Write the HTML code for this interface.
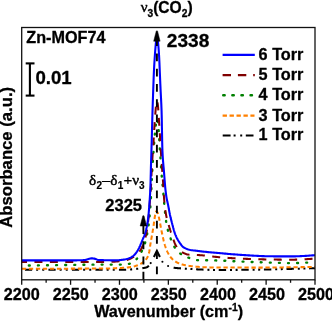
<!DOCTYPE html>
<html><head><meta charset="utf-8"><title>Zn-MOF74 CO2 IR</title>
<style>
html,body{margin:0;padding:0;background:#fff;}
body{width:332px;height:321px;overflow:hidden;font-family:"Liberation Sans",sans-serif;}
svg{display:block;will-change:transform;}
text{font-family:"Liberation Sans",sans-serif;font-weight:bold;fill:#000;stroke:#000;stroke-width:0.3px;stroke-linejoin:round;}
.sym{font-family:"Liberation Serif",serif;font-weight:normal;stroke-width:0.45px;}
.reg{font-weight:normal;stroke-width:0.2px;}
</style></head><body>
<svg width="332" height="321" viewBox="0 0 332 321">
<rect x="0" y="0" width="332" height="321" fill="#fff"/>
<!-- curves -->
<g fill="none" stroke-width="2.05" stroke-linejoin="round">
<path d="M21.70,269.70 L22.68,269.70 L23.66,269.70 L24.64,269.70 L25.62,269.70 L26.60,269.70 L27.59,269.70 L28.57,269.70 L29.55,269.70 L30.53,269.70 L31.51,269.70 L32.49,269.70 L33.47,269.70 L34.45,269.70 L35.43,269.70 L36.41,269.70 L37.39,269.70 L38.38,269.70 L39.36,269.70 L40.34,269.70 L41.32,269.70 L42.30,269.70 L43.28,269.70 L44.26,269.70 L45.24,269.70 L46.22,269.70 L47.20,269.70 L48.19,269.70 L49.17,269.70 L50.15,269.70 L51.13,269.70 L52.11,269.70 L53.09,269.70 L54.07,269.70 L55.05,269.70 L56.03,269.70 L57.01,269.70 L57.99,269.70 L58.98,269.70 L59.96,269.70 L60.94,269.70 L61.92,269.70 L62.90,269.70 L63.88,269.70 L64.86,269.70 L65.84,269.70 L66.82,269.70 L67.80,269.70 L68.78,269.70 L69.77,269.70 L70.75,269.70 L71.73,269.70 L72.71,269.70 L73.69,269.70 L74.67,269.70 L75.65,269.70 L76.63,269.70 L77.61,269.70 L78.59,269.70 L79.58,269.70 L80.56,269.70 L81.54,269.70 L82.52,269.70 L83.50,269.70 L84.48,269.70 L85.46,269.70 L86.44,269.70 L87.42,269.70 L88.40,269.70 L89.38,269.70 L90.37,269.70 L91.35,269.70 L92.33,269.70 L93.31,269.70 L94.29,269.70 L95.27,269.70 L96.25,269.70 L97.23,269.70 L98.21,269.70 L99.19,269.70 L100.17,269.70 L101.16,269.70 L102.14,269.70 L103.12,269.70 L104.10,269.70 L105.08,269.70 L106.06,269.70 L107.04,269.70 L108.02,269.70 L109.00,269.70 L109.98,269.70 L110.97,269.70 L111.95,269.70 L112.93,269.70 L113.91,269.70 L114.89,269.70 L115.87,269.70 L116.85,269.70 L117.83,269.70 L118.81,269.70 L119.79,269.70 L120.77,269.70 L121.76,269.70 L122.74,269.70 L123.72,269.70 L124.70,269.70 L125.68,269.70 L126.66,269.67 L127.64,269.64 L128.62,269.59 L129.60,269.52 L130.58,269.45 L131.56,269.37 L132.55,269.27 L133.53,269.18 L134.51,269.07 L135.00,269.02 L135.13,269.01 L135.25,269.00 L135.38,268.98 L135.49,268.97 L135.50,268.97 L135.63,268.95 L135.75,268.94 L135.88,268.93 L136.00,268.91 L136.13,268.90 L136.25,268.89 L136.38,268.87 L136.47,268.86 L136.50,268.86 L136.63,268.85 L136.75,268.83 L136.88,268.82 L137.01,268.81 L137.13,268.79 L137.26,268.78 L137.38,268.77 L137.45,268.76 L137.51,268.75 L137.63,268.74 L137.76,268.73 L137.88,268.71 L138.01,268.70 L138.13,268.69 L138.26,268.67 L138.38,268.66 L138.43,268.66 L138.51,268.65 L138.63,268.63 L138.76,268.62 L138.88,268.61 L139.01,268.60 L139.14,268.58 L139.26,268.57 L139.39,268.56 L139.41,268.56 L139.51,268.55 L139.64,268.53 L139.76,268.52 L139.89,268.51 L140.01,268.49 L140.14,268.48 L140.26,268.47 L140.39,268.45 L140.39,268.45 L140.51,268.44 L140.64,268.43 L140.76,268.41 L140.89,268.40 L141.02,268.38 L141.14,268.37 L141.27,268.36 L141.37,268.34 L141.39,268.34 L141.52,268.33 L141.64,268.31 L141.77,268.29 L141.89,268.28 L142.02,268.26 L142.14,268.25 L142.27,268.23 L142.36,268.22 L142.39,268.21 L142.52,268.19 L142.64,268.18 L142.77,268.16 L142.89,268.14 L143.02,268.12 L143.15,268.10 L143.27,268.08 L143.34,268.07 L143.40,268.06 L143.52,268.04 L143.65,268.02 L143.77,268.00 L143.90,267.97 L144.02,267.95 L144.15,267.93 L144.27,267.90 L144.32,267.89 L144.40,267.88 L144.52,267.85 L144.65,267.83 L144.77,267.80 L144.90,267.77 L145.03,267.75 L145.15,267.72 L145.28,267.69 L145.30,267.69 L145.40,267.66 L145.53,267.63 L145.65,267.60 L145.78,267.57 L145.90,267.54 L146.03,267.50 L146.15,267.47 L146.28,267.43 L146.28,267.43 L146.40,267.40 L146.53,267.36 L146.65,267.32 L146.78,267.26 L146.90,267.21 L147.03,267.15 L147.16,267.08 L147.26,267.02 L147.28,267.01 L147.41,266.93 L147.53,266.85 L147.66,266.76 L147.78,266.67 L147.91,266.57 L148.03,266.47 L148.16,266.36 L148.24,266.29 L148.28,266.25 L148.41,266.14 L148.53,266.03 L148.66,265.91 L148.78,265.78 L148.90,265.67" stroke="#000" stroke-dasharray="7.2 4 2 4.1 2 4.2" stroke-dashoffset="20.26"/>
<path d="M173.60,267.68 L173.72,267.70 L173.75,267.70 L173.85,267.72 L173.97,267.74 L174.10,267.76 L174.22,267.77 L174.35,267.79 L174.47,267.81 L174.60,267.83 L174.72,267.84 L174.73,267.84 L174.85,267.86 L174.97,267.87 L175.10,267.89 L175.23,267.90 L175.35,267.92 L175.48,267.93 L175.60,267.94 L175.71,267.96 L175.73,267.96 L175.85,267.97 L175.98,267.99 L176.10,268.00 L176.23,268.01 L176.35,268.02 L176.48,268.04 L176.60,268.05 L176.69,268.06 L176.73,268.06 L176.85,268.07 L176.98,268.08 L177.11,268.10 L177.23,268.11 L177.36,268.12 L177.48,268.13 L177.61,268.14 L177.67,268.15 L177.73,268.15 L177.86,268.16 L177.98,268.17 L178.11,268.18 L178.23,268.19 L178.36,268.20 L178.48,268.21 L178.61,268.22 L178.65,268.23 L178.73,268.23 L178.86,268.24 L178.98,268.25 L179.11,268.26 L179.24,268.27 L179.36,268.28 L179.49,268.29 L179.61,268.30 L179.63,268.30 L179.74,268.31 L179.86,268.31 L179.99,268.32 L180.11,268.33 L180.24,268.34 L180.36,268.35 L180.49,268.36 L180.61,268.36 L180.61,268.36 L180.74,268.37 L180.86,268.38 L180.99,268.39 L181.12,268.40 L181.24,268.40 L181.37,268.41 L181.49,268.42 L181.59,268.43 L181.62,268.43 L181.74,268.43 L181.87,268.44 L181.99,268.45 L182.12,268.46 L182.24,268.46 L182.37,268.47 L182.49,268.48 L182.57,268.48 L182.62,268.49 L182.74,268.49 L182.87,268.50 L182.99,268.51 L183.12,268.52 L183.25,268.52 L183.37,268.53 L183.50,268.54 L183.55,268.54 L183.62,268.54 L183.75,268.55 L183.87,268.56 L184.00,268.57 L184.12,268.57 L184.25,268.58 L184.37,268.59 L184.50,268.60 L184.54,268.60 L184.62,268.60 L184.75,268.61 L184.87,268.62 L185.00,268.63 L185.52,268.66 L186.50,268.72 L187.48,268.78 L188.46,268.84 L189.44,268.91 L190.42,268.97 L191.40,269.03 L192.38,269.09 L193.36,269.15 L194.34,269.20 L195.33,269.26 L196.31,269.31 L197.29,269.36 L198.27,269.41 L199.25,269.46 L200.23,269.50 L201.21,269.54 L202.19,269.59 L203.17,269.63 L204.15,269.68 L205.14,269.72 L206.12,269.77 L207.10,269.81 L208.08,269.85 L209.06,269.88 L210.04,269.92 L211.02,269.94 L212.00,269.97 L212.98,269.98 L213.96,270.00 L214.94,270.00 L215.93,270.00 L216.91,270.00 L217.89,270.00 L218.87,270.00 L219.85,269.99 L220.83,269.99 L221.81,269.99 L222.79,269.98 L223.77,269.98 L224.75,269.97 L225.73,269.97 L226.72,269.96 L227.70,269.96 L228.68,269.95 L229.66,269.94 L230.64,269.94 L231.62,269.93 L232.60,269.92 L233.58,269.91 L234.56,269.90 L235.54,269.89 L236.53,269.88 L237.51,269.87 L238.49,269.86 L239.47,269.85 L240.45,269.84 L241.43,269.83 L242.41,269.82 L243.39,269.81 L244.37,269.80 L245.35,269.79 L246.33,269.78 L247.32,269.76 L248.30,269.75 L249.28,269.74 L250.26,269.73 L251.24,269.71 L252.22,269.70 L253.20,269.69 L254.18,269.68 L255.16,269.66 L256.14,269.65 L257.12,269.64 L258.11,269.63 L259.09,269.61 L260.07,269.60 L261.05,269.59 L262.03,269.57 L263.01,269.55 L263.99,269.54 L264.97,269.52 L265.95,269.50 L266.93,269.48 L267.92,269.46 L268.90,269.44 L269.88,269.42 L270.86,269.40 L271.84,269.37 L272.82,269.35 L273.80,269.33 L274.78,269.30 L275.76,269.28 L276.74,269.25 L277.72,269.23 L278.71,269.20 L279.69,269.17 L280.67,269.15 L281.65,269.12 L282.63,269.09 L283.61,269.07 L284.59,269.04 L285.57,269.02 L286.55,268.99 L287.53,268.96 L288.51,268.94 L289.50,268.91 L290.48,268.89 L291.46,268.86 L292.44,268.84 L293.42,268.81 L294.40,268.79 L295.38,268.76 L296.36,268.73 L297.34,268.71 L298.32,268.68 L299.31,268.65 L300.29,268.63 L301.27,268.60 L302.25,268.57 L303.23,268.54 L304.21,268.52 L305.19,268.49 L306.17,268.46 L307.15,268.43 L308.13,268.40 L309.11,268.37 L310.10,268.35 L311.08,268.32 L312.06,268.29 L313.04,268.26 L314.02,268.23 L315.00,268.20" stroke="#000" stroke-dasharray="7.4 3.9 2 3.6 2 3.7"/>
<path d="M153.9,257 L156.9,250.8 L159.9,257" stroke="#000" stroke-linejoin="miter"/>
<g fill="#000" stroke="none"><circle cx="150.7" cy="263.1" r="1.05"/><circle cx="162.4" cy="261.7" r="1.05"/><circle cx="168.1" cy="266" r="1.05"/></g>
<path d="M21.70,268.70 L22.68,268.70 L23.66,268.70 L24.64,268.70 L25.62,268.70 L26.60,268.70 L27.59,268.70 L28.57,268.70 L29.55,268.70 L30.53,268.70 L31.51,268.70 L32.49,268.70 L33.47,268.70 L34.45,268.70 L35.43,268.70 L36.41,268.70 L37.39,268.70 L38.38,268.70 L39.36,268.69 L40.34,268.69 L41.32,268.69 L42.30,268.69 L43.28,268.69 L44.26,268.69 L45.24,268.69 L46.22,268.69 L47.20,268.69 L48.19,268.69 L49.17,268.69 L50.15,268.68 L51.13,268.68 L52.11,268.68 L53.09,268.68 L54.07,268.68 L55.05,268.68 L56.03,268.68 L57.01,268.67 L57.99,268.67 L58.98,268.67 L59.96,268.67 L60.94,268.67 L61.92,268.67 L62.90,268.66 L63.88,268.66 L64.86,268.66 L65.84,268.66 L66.82,268.66 L67.80,268.65 L68.78,268.65 L69.77,268.65 L70.75,268.65 L71.73,268.64 L72.71,268.64 L73.69,268.64 L74.67,268.64 L75.65,268.63 L76.63,268.63 L77.61,268.63 L78.59,268.62 L79.58,268.62 L80.56,268.62 L81.54,268.61 L82.52,268.61 L83.50,268.61 L84.48,268.60 L85.46,268.60 L86.44,268.60 L87.42,268.59 L88.40,268.59 L89.38,268.59 L90.37,268.58 L91.35,268.58 L92.33,268.57 L93.31,268.57 L94.29,268.56 L95.27,268.56 L96.25,268.56 L97.23,268.55 L98.21,268.55 L99.19,268.54 L100.17,268.54 L101.16,268.53 L102.14,268.53 L103.12,268.52 L104.10,268.52 L105.08,268.51 L106.06,268.50 L107.04,268.50 L108.02,268.49 L109.00,268.47 L109.98,268.44 L110.97,268.40 L111.95,268.36 L112.93,268.32 L113.91,268.27 L114.89,268.22 L115.87,268.18 L116.85,268.13 L117.83,268.09 L118.81,268.04 L119.79,268.00 L120.77,267.95 L121.76,267.90 L122.74,267.85 L123.72,267.79 L124.70,267.72 L125.68,267.65 L126.66,267.56 L127.64,267.47 L128.62,267.36 L129.60,267.23 L130.58,267.09 L131.56,266.94 L132.55,266.76 L133.53,266.53 L134.51,266.27 L135.00,266.12 L135.13,266.08 L135.25,266.04 L135.38,266.00 L135.49,265.96 L135.50,265.96 L135.63,265.92 L135.75,265.88 L135.88,265.84 L136.00,265.79 L136.13,265.75 L136.25,265.71 L136.38,265.66 L136.47,265.63 L136.50,265.62 L136.63,265.57 L136.75,265.52 L136.88,265.48 L137.01,265.43 L137.13,265.38 L137.26,265.34 L137.38,265.29 L137.45,265.26 L137.51,265.24 L137.63,265.19 L137.76,265.14 L137.88,265.09 L138.01,265.04 L138.13,264.99 L138.26,264.94 L138.38,264.89 L138.43,264.87 L138.51,264.84 L138.63,264.79 L138.76,264.73 L138.88,264.68 L139.01,264.62 L139.14,264.57 L139.26,264.51 L139.39,264.46 L139.41,264.44 L139.51,264.40 L139.64,264.34 L139.76,264.28 L139.89,264.22 L140.01,264.15 L140.14,264.09 L140.26,264.03 L140.39,263.96 L140.39,263.96 L140.51,263.89 L140.64,263.82 L140.76,263.76 L140.89,263.69 L141.02,263.61 L141.14,263.54 L141.27,263.47 L141.37,263.40 L141.39,263.39 L141.52,263.32 L141.64,263.24 L141.77,263.16 L141.89,263.08 L142.02,263.00 L142.14,262.92 L142.27,262.84 L142.36,262.78 L142.39,262.75 L142.52,262.67 L142.64,262.58 L142.77,262.49 L142.89,262.40 L143.02,262.31 L143.15,262.22 L143.27,262.12 L143.34,262.07 L143.40,262.03 L143.52,261.93 L143.65,261.83 L143.77,261.73 L143.90,261.63 L144.02,261.53 L144.15,261.43 L144.27,261.32 L144.32,261.29 L144.40,261.22 L144.52,261.10 L144.65,260.99 L144.77,260.87 L144.90,260.74 L145.03,260.61 L145.15,260.48 L145.28,260.34 L145.30,260.32 L145.40,260.20 L145.53,260.05 L145.65,259.90 L145.78,259.74 L145.90,259.58 L146.03,259.42 L146.15,259.25 L146.28,259.07 L146.28,259.07 L146.40,258.90 L146.53,258.71 L146.65,258.52 L146.78,258.33 L146.90,258.14 L147.03,257.93 L147.16,257.73 L147.26,257.55 L147.28,257.51 L147.41,257.29 L147.53,257.06 L147.66,256.82 L147.78,256.56 L147.91,256.29 L148.03,256.01 L148.16,255.71 L148.24,255.51 L148.28,255.40 L148.41,255.06 L148.53,254.71 L148.66,254.33 L148.78,253.91 L148.91,253.41 L149.04,252.84 L149.16,252.20 L149.22,251.86 L149.29,251.50 L149.41,250.75 L149.54,249.96 L149.66,249.14 L149.79,248.30 L149.91,247.45 L150.04,246.60 L150.16,245.75 L150.20,245.49 L150.29,244.92 L150.41,244.12 L150.54,243.36 L150.66,242.63 L150.79,241.92 L150.91,241.21 L151.04,240.50 L151.17,239.80 L151.18,239.70 L151.29,239.10 L151.42,238.41 L151.54,237.71 L151.67,237.01 L151.79,236.31 L151.92,235.61 L152.04,234.90 L152.16,234.20 L152.17,234.18 L152.29,233.47 L152.42,232.76 L152.54,232.05 L152.67,231.34 L152.79,230.63 L152.92,229.91 L153.05,229.18 L153.15,228.58 L153.17,228.43 L153.30,227.66 L153.42,226.86 L153.55,226.02 L153.67,225.12 L153.80,224.19 L153.92,223.23 L154.05,222.26 L154.13,221.66 L154.17,221.30 L154.30,220.35 L154.42,219.43 L154.55,218.56 L154.67,217.75 L154.80,217.00 L154.92,216.30 L155.05,215.59 L155.11,215.27 L155.18,214.90 L155.30,214.24 L155.43,213.64 L155.55,213.10 L155.68,212.65 L155.80,212.30 L155.93,212.00 L156.05,211.72 L156.09,211.65 L156.18,211.49 L156.30,211.34 L156.43,211.30 L156.55,211.33 L156.68,211.41 L156.80,211.51 L156.93,211.64 L157.06,211.79 L157.07,211.80 L157.18,211.94 L157.31,212.12 L157.43,212.35 L157.56,212.64 L157.68,212.97 L157.81,213.33 L157.93,213.72 L158.05,214.09 L158.06,214.11 L158.18,214.52 L158.31,214.94 L158.43,215.40 L158.56,215.90 L158.68,216.43 L158.81,216.99 L158.93,217.56 L159.03,218.01 L159.06,218.14 L159.19,218.74 L159.31,219.33 L159.44,219.92 L159.56,220.53 L159.69,221.15 L159.81,221.79 L159.94,222.44 L160.01,222.84 L160.06,223.11 L160.19,223.78 L160.31,224.45 L160.44,225.12 L160.56,225.80 L160.69,226.46 L160.81,227.12 L160.94,227.76 L160.99,228.03 L161.07,228.40 L161.19,229.03 L161.32,229.67 L161.44,230.30 L161.57,230.94 L161.69,231.58 L161.82,232.21 L161.94,232.84 L161.97,232.99 L162.07,233.46 L162.19,234.07 L162.32,234.68 L162.44,235.28 L162.57,235.87 L162.69,236.44 L162.82,237.01 L162.94,237.56 L162.95,237.60 L163.07,238.09 L163.20,238.62 L163.32,239.14 L163.45,239.66 L163.57,240.17 L163.70,240.67 L163.82,241.17 L163.94,241.61 L163.95,241.66 L164.07,242.14 L164.20,242.61 L164.32,243.07 L164.45,243.52 L164.57,243.96 L164.70,244.39 L164.82,244.80 L164.92,245.10 L164.95,245.21 L165.08,245.60 L165.20,245.99 L165.33,246.37 L165.45,246.74 L165.58,247.11 L165.70,247.48 L165.83,247.84 L165.90,248.04 L165.95,248.19 L166.08,248.54 L166.20,248.88 L166.33,249.21 L166.45,249.53 L166.58,249.85 L166.70,250.17 L166.83,250.47 L166.88,250.59 L166.95,250.77 L167.08,251.06 L167.21,251.34 L167.33,251.61 L167.46,251.88 L167.58,252.14 L167.71,252.39 L167.83,252.64 L167.86,252.70 L167.96,252.89 L168.08,253.13 L168.21,253.37 L168.33,253.60 L168.46,253.84 L168.58,254.06 L168.71,254.28 L168.83,254.50 L168.84,254.51 L168.96,254.72 L169.09,254.93 L169.21,255.13 L169.34,255.33 L169.46,255.53 L169.59,255.72 L169.71,255.91 L169.82,256.07 L169.84,256.10 L169.96,256.28 L170.09,256.45 L170.21,256.62 L170.34,256.79 L170.46,256.95 L170.59,257.11 L170.71,257.27 L170.80,257.38 L170.84,257.42 L170.96,257.57 L171.09,257.72 L171.22,257.87 L171.34,258.01 L171.47,258.16 L171.59,258.30 L171.72,258.43 L171.78,258.51 L171.84,258.57 L171.97,258.70 L172.09,258.83 L172.22,258.96 L172.34,259.09 L172.47,259.21 L172.59,259.33 L172.72,259.45 L172.76,259.49 L172.84,259.57 L172.97,259.68 L173.10,259.79 L173.22,259.90 L173.35,260.01 L173.47,260.12 L173.60,260.22 L173.72,260.32 L173.75,260.34 L173.85,260.42 L173.97,260.52 L174.10,260.61 L174.22,260.70 L174.35,260.80 L174.47,260.89 L174.60,260.98 L174.72,261.07 L174.73,261.07 L174.85,261.15 L174.97,261.24 L175.10,261.32 L175.23,261.41 L175.35,261.49 L175.48,261.57 L175.60,261.65 L175.71,261.71 L175.73,261.73 L175.85,261.80 L175.98,261.88 L176.10,261.95 L176.23,262.03 L176.35,262.10 L176.48,262.17 L176.60,262.24 L176.69,262.29 L176.73,262.31 L176.85,262.38 L176.98,262.44 L177.11,262.51 L177.23,262.57 L177.36,262.63 L177.48,262.70 L177.61,262.76 L177.67,262.79 L177.73,262.81 L177.86,262.87 L177.98,262.93 L178.11,262.98 L178.23,263.04 L178.36,263.09 L178.48,263.15 L178.61,263.20 L178.65,263.22 L178.73,263.25 L178.86,263.31 L178.98,263.36 L179.11,263.41 L179.24,263.46 L179.36,263.51 L179.49,263.56 L179.61,263.60 L179.63,263.61 L179.74,263.65 L179.86,263.70 L179.99,263.75 L180.11,263.79 L180.24,263.84 L180.36,263.88 L180.49,263.92 L180.61,263.97 L180.61,263.97 L180.74,264.01 L180.86,264.05 L180.99,264.09 L181.12,264.14 L181.24,264.18 L181.37,264.22 L181.49,264.26 L181.59,264.29 L181.62,264.29 L181.74,264.33 L181.87,264.37 L181.99,264.41 L182.12,264.44 L182.24,264.48 L182.37,264.51 L182.49,264.55 L182.57,264.57 L182.62,264.58 L182.74,264.62 L182.87,264.65 L182.99,264.68 L183.12,264.71 L183.25,264.74 L183.37,264.78 L183.50,264.81 L183.55,264.82 L183.62,264.84 L183.75,264.87 L183.87,264.90 L184.00,264.93 L184.12,264.96 L184.25,264.99 L184.37,265.01 L184.50,265.04 L184.54,265.05 L184.62,265.07 L184.75,265.10 L184.87,265.13 L185.00,265.15 L185.52,265.26 L186.50,265.46 L187.48,265.63 L188.46,265.79 L189.44,265.94 L190.42,266.07 L191.40,266.19 L192.38,266.31 L193.36,266.42 L194.34,266.52 L195.33,266.61 L196.31,266.69 L197.29,266.77 L198.27,266.84 L199.25,266.92 L200.23,266.98 L201.21,267.05 L202.19,267.10 L203.17,267.16 L204.15,267.20 L205.14,267.24 L206.12,267.28 L207.10,267.31 L208.08,267.35 L209.06,267.38 L210.04,267.41 L211.02,267.44 L212.00,267.46 L212.98,267.48 L213.96,267.49 L214.94,267.50 L215.93,267.50 L216.91,267.51 L217.89,267.51 L218.87,267.52 L219.85,267.52 L220.83,267.53 L221.81,267.53 L222.79,267.53 L223.77,267.54 L224.75,267.54 L225.73,267.55 L226.72,267.55 L227.70,267.55 L228.68,267.56 L229.66,267.56 L230.64,267.56 L231.62,267.56 L232.60,267.57 L233.58,267.57 L234.56,267.57 L235.54,267.57 L236.53,267.58 L237.51,267.58 L238.49,267.58 L239.47,267.58 L240.45,267.58 L241.43,267.59 L242.41,267.59 L243.39,267.59 L244.37,267.59 L245.35,267.59 L246.33,267.59 L247.32,267.59 L248.30,267.59 L249.28,267.60 L250.26,267.60 L251.24,267.60 L252.22,267.60 L253.20,267.60 L254.18,267.60 L255.16,267.60 L256.14,267.60 L257.12,267.60 L258.11,267.60 L259.09,267.60 L260.07,267.60 L261.05,267.60 L262.03,267.60 L263.01,267.59 L263.99,267.59 L264.97,267.59 L265.95,267.58 L266.93,267.57 L267.92,267.57 L268.90,267.56 L269.88,267.55 L270.86,267.54 L271.84,267.53 L272.82,267.52 L273.80,267.51 L274.78,267.50 L275.76,267.49 L276.74,267.48 L277.72,267.46 L278.71,267.45 L279.69,267.44 L280.67,267.42 L281.65,267.41 L282.63,267.40 L283.61,267.38 L284.59,267.37 L285.57,267.36 L286.55,267.34 L287.53,267.33 L288.51,267.32 L289.50,267.31 L290.48,267.29 L291.46,267.28 L292.44,267.27 L293.42,267.26 L294.40,267.24 L295.38,267.23 L296.36,267.21 L297.34,267.20 L298.32,267.19 L299.31,267.17 L300.29,267.16 L301.27,267.14 L302.25,267.12 L303.23,267.11 L304.21,267.09 L305.19,267.08 L306.17,267.06 L307.15,267.04 L308.13,267.02 L309.11,267.01 L310.10,266.99 L311.08,266.97 L312.06,266.95 L313.04,266.94 L314.02,266.92 L315.00,266.90" stroke="#ff8000" stroke-dasharray="4.3 2.7" stroke-dashoffset="6.83"/>
<path d="M21.70,265.60 L22.68,265.59 L23.66,265.57 L24.64,265.56 L25.62,265.55 L26.60,265.53 L27.59,265.52 L28.57,265.51 L29.55,265.49 L30.53,265.48 L31.51,265.47 L32.49,265.45 L33.47,265.44 L34.45,265.43 L35.43,265.41 L36.41,265.40 L37.39,265.39 L38.38,265.37 L39.36,265.36 L40.34,265.35 L41.32,265.33 L42.30,265.32 L43.28,265.31 L44.26,265.30 L45.24,265.28 L46.22,265.27 L47.20,265.26 L48.19,265.25 L49.17,265.23 L50.15,265.22 L51.13,265.21 L52.11,265.20 L53.09,265.18 L54.07,265.17 L55.05,265.16 L56.03,265.15 L57.01,265.14 L57.99,265.12 L58.98,265.11 L59.96,265.10 L60.94,265.09 L61.92,265.08 L62.90,265.06 L63.88,265.05 L64.86,265.04 L65.84,265.02 L66.82,265.01 L67.80,265.00 L68.78,264.98 L69.77,264.97 L70.75,264.95 L71.73,264.94 L72.71,264.92 L73.69,264.91 L74.67,264.90 L75.65,264.88 L76.63,264.87 L77.61,264.85 L78.59,264.84 L79.58,264.82 L80.56,264.81 L81.54,264.80 L82.52,264.78 L83.50,264.77 L84.48,264.76 L85.46,264.74 L86.44,264.73 L87.42,264.72 L88.40,264.71 L89.38,264.70 L90.37,264.69 L91.35,264.68 L92.33,264.67 L93.31,264.66 L94.29,264.65 L95.27,264.64 L96.25,264.63 L97.23,264.63 L98.21,264.62 L99.19,264.61 L100.17,264.61 L101.16,264.61 L102.14,264.60 L103.12,264.60 L104.10,264.60 L105.08,264.60 L106.06,264.60 L107.04,264.60 L108.02,264.60 L109.00,264.60 L109.98,264.60 L110.97,264.60 L111.95,264.60 L112.93,264.60 L113.91,264.60 L114.89,264.60 L115.87,264.60 L116.85,264.60 L117.83,264.60 L118.81,264.60 L119.79,264.60 L120.77,264.60 L121.76,264.58 L122.74,264.54 L123.72,264.48 L124.70,264.40 L125.68,264.30 L126.66,264.18 L127.64,264.04 L128.62,263.89 L129.60,263.72 L130.58,263.46 L131.56,263.02 L132.55,262.46 L133.53,261.82 L134.51,261.13 L135.00,260.71 L135.13,260.60 L135.25,260.49 L135.38,260.37 L135.49,260.26 L135.50,260.25 L135.63,260.12 L135.75,260.00 L135.88,259.87 L136.00,259.74 L136.13,259.61 L136.25,259.47 L136.38,259.34 L136.47,259.24 L136.50,259.20 L136.63,259.06 L136.75,258.91 L136.88,258.77 L137.01,258.62 L137.13,258.47 L137.26,258.32 L137.38,258.17 L137.45,258.09 L137.51,258.02 L137.63,257.86 L137.76,257.71 L137.88,257.55 L138.01,257.39 L138.13,257.23 L138.26,257.06 L138.38,256.88 L138.43,256.82 L138.51,256.71 L138.63,256.52 L138.76,256.33 L138.88,256.14 L139.01,255.94 L139.14,255.74 L139.26,255.54 L139.39,255.33 L139.41,255.28 L139.51,255.12 L139.64,254.90 L139.76,254.69 L139.89,254.47 L140.01,254.25 L140.14,254.03 L140.26,253.81 L140.39,253.59 L140.39,253.58 L140.51,253.36 L140.64,253.14 L140.76,252.92 L140.89,252.70 L141.02,252.47 L141.14,252.25 L141.27,252.04 L141.37,251.85 L141.39,251.82 L141.52,251.61 L141.64,251.39 L141.77,251.18 L141.89,250.96 L142.02,250.74 L142.14,250.52 L142.27,250.29 L142.36,250.14 L142.39,250.07 L142.52,249.83 L142.64,249.59 L142.77,249.35 L142.89,249.09 L143.02,248.83 L143.15,248.56 L143.27,248.28 L143.34,248.13 L143.40,247.99 L143.52,247.69 L143.65,247.38 L143.77,247.06 L143.90,246.72 L144.02,246.36 L144.15,246.00 L144.27,245.62 L144.32,245.48 L144.40,245.23 L144.52,244.82 L144.65,244.40 L144.77,243.98 L144.90,243.54 L145.03,243.08 L145.15,242.62 L145.28,242.15 L145.30,242.06 L145.40,241.66 L145.53,241.17 L145.65,240.66 L145.78,240.15 L145.90,239.62 L146.03,239.09 L146.15,238.55 L146.28,238.00 L146.28,237.99 L146.40,237.44 L146.53,236.87 L146.65,236.29 L146.78,235.71 L146.90,235.11 L147.03,234.49 L147.16,233.87 L147.26,233.33 L147.28,233.22 L147.41,232.56 L147.53,231.88 L147.66,231.18 L147.78,230.46 L147.91,229.71 L148.03,228.94 L148.16,228.14 L148.24,227.60 L148.28,227.32 L148.41,226.46 L148.53,225.58 L148.66,224.66 L148.78,223.71 L148.91,222.73 L149.04,221.71 L149.16,220.62 L149.22,220.05 L149.29,219.44 L149.41,218.19 L149.54,216.87 L149.66,215.47 L149.79,214.00 L149.91,212.47 L150.04,210.88 L150.16,209.22 L150.20,208.69 L150.29,207.51 L150.41,205.75 L150.54,203.93 L150.66,202.07 L150.79,200.16 L150.91,198.12 L151.04,195.86 L151.17,193.43 L151.18,193.06 L151.29,190.86 L151.42,188.20 L151.54,185.50 L151.67,182.81 L151.79,180.16 L151.92,177.61 L152.04,175.19 L152.16,172.86 L152.17,172.79 L152.29,170.42 L152.42,168.12 L152.54,165.93 L152.67,163.88 L152.79,161.89 L152.92,159.95 L153.05,158.05 L153.15,156.57 L153.17,156.21 L153.30,154.41 L153.42,152.65 L153.55,150.93 L153.67,149.24 L153.80,147.60 L153.92,145.98 L154.05,144.40 L154.13,143.40 L154.17,142.81 L154.30,141.21 L154.42,139.61 L154.55,138.03 L154.67,136.47 L154.80,134.95 L154.92,133.47 L155.05,132.05 L155.11,131.42 L155.18,130.70 L155.30,129.42 L155.43,128.23 L155.55,127.15 L155.68,126.17 L155.80,125.26 L155.93,124.33 L156.05,123.39 L156.09,123.13 L156.18,122.49 L156.30,121.64 L156.43,120.86 L156.55,120.19 L156.68,119.64 L156.80,119.25 L156.93,119.03 L157.06,119.02 L157.07,119.03 L157.18,119.20 L157.31,119.55 L157.43,120.05 L157.56,120.68 L157.68,121.42 L157.81,122.25 L157.93,123.15 L158.05,124.04 L158.06,124.10 L158.18,125.08 L158.31,126.07 L158.43,127.23 L158.56,128.67 L158.68,130.34 L158.81,132.20 L158.93,134.19 L159.03,135.77 L159.06,136.26 L159.19,138.37 L159.31,140.47 L159.44,142.51 L159.56,144.44 L159.69,146.24 L159.81,148.02 L159.94,149.80 L160.01,150.85 L160.06,151.57 L160.19,153.37 L160.31,155.20 L160.44,157.09 L160.56,159.06 L160.69,161.06 L160.81,163.07 L160.94,165.06 L160.99,165.90 L161.07,167.01 L161.19,168.89 L161.32,170.67 L161.44,172.33 L161.57,173.89 L161.69,175.39 L161.82,176.83 L161.94,178.22 L161.97,178.56 L162.07,179.58 L162.19,180.92 L162.32,182.23 L162.44,183.48 L162.57,184.69 L162.69,185.90 L162.82,187.14 L162.94,188.42 L162.95,188.52 L163.07,189.77 L163.20,191.20 L163.32,192.70 L163.45,194.24 L163.57,195.82 L163.70,197.41 L163.82,199.01 L163.94,200.45 L163.95,200.59 L164.07,202.14 L164.20,203.65 L164.32,205.10 L164.45,206.47 L164.57,207.75 L164.70,208.95 L164.82,210.15 L164.92,211.02 L164.95,211.34 L165.08,212.51 L165.20,213.67 L165.33,214.81 L165.45,215.93 L165.58,217.02 L165.70,218.09 L165.83,219.12 L165.90,219.69 L165.95,220.12 L166.08,221.08 L166.20,222.00 L166.33,222.87 L166.45,223.70 L166.58,224.47 L166.70,225.19 L166.83,225.85 L166.88,226.10 L166.95,226.46 L167.08,227.03 L167.21,227.58 L167.33,228.11 L167.46,228.61 L167.58,229.09 L167.71,229.55 L167.83,229.99 L167.86,230.09 L167.96,230.42 L168.08,230.84 L168.21,231.24 L168.33,231.63 L168.46,232.01 L168.58,232.38 L168.71,232.75 L168.83,233.11 L168.84,233.13 L168.96,233.47 L169.09,233.82 L169.21,234.18 L169.34,234.54 L169.46,234.90 L169.59,235.26 L169.71,235.64 L169.82,235.96 L169.84,236.01 L169.96,236.39 L170.09,236.77 L170.21,237.15 L170.34,237.53 L170.46,237.91 L170.59,238.28 L170.71,238.66 L170.80,238.92 L170.84,239.03 L170.96,239.40 L171.09,239.77 L171.22,240.13 L171.34,240.49 L171.47,240.85 L171.59,241.19 L171.72,241.54 L171.78,241.71 L171.84,241.87 L171.97,242.20 L172.09,242.51 L172.22,242.82 L172.34,243.12 L172.47,243.41 L172.59,243.69 L172.72,243.96 L172.76,244.05 L172.84,244.22 L172.97,244.46 L173.10,244.69 L173.22,244.91 L173.35,245.13 L173.47,245.35 L173.60,245.57 L173.72,245.78 L173.75,245.82 L173.85,245.99 L173.97,246.20 L174.10,246.41 L174.22,246.61 L174.35,246.81 L174.47,247.01 L174.60,247.21 L174.72,247.40 L174.73,247.41 L174.85,247.60 L174.97,247.79 L175.10,247.97 L175.23,248.16 L175.35,248.34 L175.48,248.52 L175.60,248.70 L175.71,248.85 L175.73,248.87 L175.85,249.05 L175.98,249.22 L176.10,249.38 L176.23,249.55 L176.35,249.71 L176.48,249.87 L176.60,250.03 L176.69,250.14 L176.73,250.19 L176.85,250.34 L176.98,250.49 L177.11,250.64 L177.23,250.79 L177.36,250.93 L177.48,251.07 L177.61,251.21 L177.67,251.28 L177.73,251.35 L177.86,251.48 L177.98,251.62 L178.11,251.75 L178.23,251.87 L178.36,252.00 L178.48,252.12 L178.61,252.24 L178.65,252.28 L178.73,252.36 L178.86,252.47 L178.98,252.58 L179.11,252.69 L179.24,252.80 L179.36,252.90 L179.49,253.01 L179.61,253.11 L179.63,253.12 L179.74,253.20 L179.86,253.30 L179.99,253.39 L180.11,253.48 L180.24,253.57 L180.36,253.66 L180.49,253.75 L180.61,253.83 L180.61,253.83 L180.74,253.92 L180.86,254.00 L180.99,254.09 L181.12,254.17 L181.24,254.25 L181.37,254.33 L181.49,254.41 L181.59,254.48 L181.62,254.49 L181.74,254.57 L181.87,254.65 L181.99,254.72 L182.12,254.80 L182.24,254.87 L182.37,254.95 L182.49,255.02 L182.57,255.07 L182.62,255.09 L182.74,255.17 L182.87,255.24 L182.99,255.31 L183.12,255.37 L183.25,255.44 L183.37,255.51 L183.50,255.58 L183.55,255.61 L183.62,255.64 L183.75,255.71 L183.87,255.77 L184.00,255.84 L184.12,255.90 L184.25,255.96 L184.37,256.02 L184.50,256.08 L184.54,256.10 L184.62,256.14 L184.75,256.20 L184.87,256.26 L185.00,256.32 L185.52,256.55 L186.50,256.97 L187.48,257.36 L188.46,257.71 L189.44,258.05 L190.42,258.38 L191.40,258.72 L192.38,259.04 L193.36,259.35 L194.34,259.63 L195.33,259.86 L196.31,260.04 L197.29,260.16 L198.27,260.21 L199.25,260.23 L200.23,260.25 L201.21,260.26 L202.19,260.28 L203.17,260.29 L204.15,260.30 L205.14,260.30 L206.12,260.31 L207.10,260.32 L208.08,260.33 L209.06,260.33 L210.04,260.34 L211.02,260.35 L212.00,260.36 L212.98,260.37 L213.96,260.38 L214.94,260.40 L215.93,260.42 L216.91,260.44 L217.89,260.47 L218.87,260.50 L219.85,260.53 L220.83,260.57 L221.81,260.61 L222.79,260.65 L223.77,260.70 L224.75,260.74 L225.73,260.79 L226.72,260.84 L227.70,260.89 L228.68,260.94 L229.66,260.99 L230.64,261.05 L231.62,261.10 L232.60,261.15 L233.58,261.20 L234.56,261.25 L235.54,261.30 L236.53,261.35 L237.51,261.39 L238.49,261.44 L239.47,261.48 L240.45,261.52 L241.43,261.56 L242.41,261.60 L243.39,261.64 L244.37,261.68 L245.35,261.71 L246.33,261.75 L247.32,261.79 L248.30,261.83 L249.28,261.87 L250.26,261.91 L251.24,261.95 L252.22,261.98 L253.20,262.02 L254.18,262.06 L255.16,262.10 L256.14,262.13 L257.12,262.17 L258.11,262.21 L259.09,262.24 L260.07,262.28 L261.05,262.31 L262.03,262.34 L263.01,262.38 L263.99,262.41 L264.97,262.44 L265.95,262.48 L266.93,262.51 L267.92,262.54 L268.90,262.57 L269.88,262.60 L270.86,262.63 L271.84,262.66 L272.82,262.69 L273.80,262.72 L274.78,262.75 L275.76,262.79 L276.74,262.82 L277.72,262.85 L278.71,262.88 L279.69,262.91 L280.67,262.94 L281.65,262.97 L282.63,263.00 L283.61,263.02 L284.59,263.04 L285.57,263.06 L286.55,263.07 L287.53,263.09 L288.51,263.10 L289.50,263.10 L290.48,263.10 L291.46,263.10 L292.44,263.09 L293.42,263.08 L294.40,263.07 L295.38,263.05 L296.36,263.03 L297.34,263.01 L298.32,262.98 L299.31,262.95 L300.29,262.92 L301.27,262.89 L302.25,262.85 L303.23,262.81 L304.21,262.76 L305.19,262.72 L306.17,262.67 L307.15,262.61 L308.13,262.56 L309.11,262.50 L310.10,262.44 L311.08,262.38 L312.06,262.31 L313.04,262.24 L314.02,262.17 L315.00,262.10" stroke="#008000" stroke-width="2.4" stroke-linecap="round" stroke-dasharray="0.9 8.2" stroke-dashoffset="1.95"/>
<path d="M21.70,261.90 L22.68,261.90 L23.66,261.90 L24.64,261.90 L25.62,261.90 L26.60,261.90 L27.59,261.90 L28.57,261.90 L29.55,261.90 L30.53,261.90 L31.51,261.90 L32.49,261.90 L33.47,261.90 L34.45,261.90 L35.43,261.90 L36.41,261.90 L37.39,261.90 L38.38,261.90 L39.36,261.90 L40.34,261.90 L41.32,261.90 L42.30,261.90 L43.28,261.90 L44.26,261.90 L45.24,261.90 L46.22,261.90 L47.20,261.90 L48.19,261.90 L49.17,261.90 L50.15,261.90 L51.13,261.90 L52.11,261.90 L53.09,261.90 L54.07,261.90 L55.05,261.90 L56.03,261.90 L57.01,261.90 L57.99,261.90 L58.98,261.90 L59.96,261.90 L60.94,261.90 L61.92,261.90 L62.90,261.90 L63.88,261.90 L64.86,261.90 L65.84,261.90 L66.82,261.90 L67.80,261.90 L68.78,261.90 L69.77,261.90 L70.75,261.90 L71.73,261.90 L72.71,261.90 L73.69,261.90 L74.67,261.90 L75.65,261.90 L76.63,261.90 L77.61,261.90 L78.59,261.90 L79.58,261.90 L80.56,261.90 L81.54,261.90 L82.52,261.90 L83.50,261.90 L84.48,261.90 L85.46,261.90 L86.44,261.90 L87.42,261.90 L88.40,261.90 L89.38,261.90 L90.37,261.90 L91.35,261.90 L92.33,261.90 L93.31,261.90 L94.29,261.90 L95.27,261.90 L96.25,261.90 L97.23,261.90 L98.21,261.90 L99.19,261.90 L100.17,261.90 L101.16,261.90 L102.14,261.90 L103.12,261.90 L104.10,261.90 L105.08,261.90 L106.06,261.90 L107.04,261.89 L108.02,261.87 L109.00,261.85 L109.98,261.82 L110.97,261.79 L111.95,261.76 L112.93,261.73 L113.91,261.69 L114.89,261.64 L115.87,261.58 L116.85,261.51 L117.83,261.42 L118.81,261.31 L119.79,261.20 L120.77,261.07 L121.76,260.93 L122.74,260.78 L123.72,260.62 L124.70,260.45 L125.68,260.26 L126.66,260.01 L127.64,259.70 L128.62,259.35 L129.60,258.97 L130.58,258.54 L131.56,258.05 L132.55,257.48 L133.53,256.85 L134.51,256.16 L135.00,255.79 L135.13,255.69 L135.25,255.60 L135.38,255.50 L135.49,255.41 L135.50,255.40 L135.63,255.30 L135.75,255.20 L135.88,255.10 L136.00,255.00 L136.13,254.89 L136.25,254.79 L136.38,254.68 L136.47,254.60 L136.50,254.57 L136.63,254.46 L136.75,254.35 L136.88,254.24 L137.01,254.12 L137.13,254.01 L137.26,253.89 L137.38,253.77 L137.45,253.70 L137.51,253.64 L137.63,253.52 L137.76,253.39 L137.88,253.26 L138.01,253.13 L138.13,252.99 L138.26,252.86 L138.38,252.72 L138.43,252.67 L138.51,252.58 L138.63,252.43 L138.76,252.29 L138.88,252.14 L139.01,251.99 L139.14,251.84 L139.26,251.68 L139.39,251.52 L139.41,251.49 L139.51,251.36 L139.64,251.20 L139.76,251.03 L139.89,250.87 L140.01,250.69 L140.14,250.52 L140.26,250.34 L140.39,250.16 L140.39,250.16 L140.51,249.98 L140.64,249.79 L140.76,249.60 L140.89,249.39 L141.02,249.18 L141.14,248.97 L141.27,248.74 L141.37,248.54 L141.39,248.51 L141.52,248.28 L141.64,248.03 L141.77,247.78 L141.89,247.53 L142.02,247.26 L142.14,247.00 L142.27,246.72 L142.36,246.53 L142.39,246.44 L142.52,246.15 L142.64,245.86 L142.77,245.56 L142.89,245.26 L143.02,244.95 L143.15,244.64 L143.27,244.31 L143.34,244.14 L143.40,243.99 L143.52,243.65 L143.65,243.31 L143.77,242.96 L143.90,242.60 L144.02,242.23 L144.15,241.86 L144.27,241.47 L144.32,241.33 L144.40,241.08 L144.52,240.67 L144.65,240.25 L144.77,239.83 L144.90,239.39 L145.03,238.94 L145.15,238.48 L145.28,238.00 L145.30,237.92 L145.40,237.52 L145.53,237.02 L145.65,236.50 L145.78,235.97 L145.90,235.43 L146.03,234.88 L146.15,234.29 L146.28,233.68 L146.28,233.68 L146.40,233.05 L146.53,232.38 L146.65,231.68 L146.78,230.96 L146.90,230.21 L147.03,229.43 L147.16,228.63 L147.26,227.93 L147.28,227.79 L147.41,226.93 L147.53,226.04 L147.66,225.13 L147.78,224.18 L147.91,223.21 L148.03,222.22 L148.16,221.19 L148.24,220.50 L148.28,220.14 L148.41,219.04 L148.53,217.85 L148.66,216.57 L148.78,215.22 L148.91,213.80 L149.04,212.32 L149.16,210.80 L149.22,210.04 L149.29,209.24 L149.41,207.64 L149.54,206.03 L149.66,204.40 L149.79,202.76 L149.91,201.13 L150.04,199.52 L150.16,197.93 L150.20,197.43 L150.29,196.36 L150.41,194.76 L150.54,193.10 L150.66,191.36 L150.79,189.49 L150.91,187.48 L151.04,185.25 L151.17,182.50 L151.18,182.07 L151.29,179.39 L151.42,176.20 L151.54,173.23 L151.67,170.69 L151.79,168.34 L151.92,166.10 L152.04,163.96 L152.16,161.94 L152.17,161.89 L152.29,159.87 L152.42,157.88 L152.54,155.89 L152.67,153.91 L152.79,151.97 L152.92,150.09 L153.05,148.23 L153.15,146.76 L153.17,146.39 L153.30,144.55 L153.42,142.70 L153.55,140.82 L153.67,138.89 L153.80,136.90 L153.92,134.86 L154.05,132.79 L154.13,131.48 L154.17,130.71 L154.30,128.63 L154.42,126.58 L154.55,124.58 L154.67,122.63 L154.80,120.77 L154.92,119.00 L155.05,117.34 L155.11,116.59 L155.18,115.68 L155.30,114.02 L155.43,112.39 L155.55,110.80 L155.68,109.30 L155.80,107.91 L155.93,106.65 L156.05,105.55 L156.09,105.27 L156.18,104.64 L156.30,103.86 L156.43,103.09 L156.55,102.38 L156.68,101.77 L156.80,101.30 L156.93,101.04 L157.06,101.02 L157.07,101.04 L157.18,101.25 L157.31,101.67 L157.43,102.26 L157.56,102.96 L157.68,103.74 L157.81,104.55 L157.93,105.57 L158.05,106.85 L158.06,106.93 L158.18,108.56 L158.31,110.38 L158.43,112.32 L158.56,114.30 L158.68,116.27 L158.81,118.14 L158.93,119.98 L159.03,121.41 L159.06,121.85 L159.19,123.77 L159.31,125.71 L159.44,127.68 L159.56,129.67 L159.69,131.68 L159.81,133.71 L159.94,135.74 L160.01,136.95 L160.06,137.77 L160.19,139.80 L160.31,141.87 L160.44,143.99 L160.56,146.15 L160.69,148.30 L160.81,150.43 L160.94,152.50 L160.99,153.35 L161.07,154.47 L161.19,156.34 L161.32,158.12 L161.44,159.84 L161.57,161.52 L161.69,163.19 L161.82,164.87 L161.94,166.58 L161.97,167.01 L162.07,168.27 L162.19,169.95 L162.32,171.61 L162.44,173.29 L162.57,174.97 L162.69,176.67 L162.82,178.41 L162.94,180.20 L162.95,180.34 L163.07,182.05 L163.20,184.05 L163.32,186.16 L163.45,188.33 L163.57,190.52 L163.70,192.67 L163.82,194.74 L163.94,196.51 L163.95,196.68 L164.07,198.44 L164.20,199.98 L164.32,201.35 L164.45,202.65 L164.57,203.90 L164.70,205.08 L164.82,206.20 L164.92,206.99 L164.95,207.27 L165.08,208.28 L165.20,209.24 L165.33,210.16 L165.45,211.03 L165.58,211.85 L165.70,212.64 L165.83,213.39 L165.90,213.80 L165.95,214.11 L166.08,214.81 L166.20,215.47 L166.33,216.12 L166.45,216.73 L166.58,217.33 L166.70,217.90 L166.83,218.46 L166.88,218.67 L166.95,218.99 L167.08,219.52 L167.21,220.02 L167.33,220.51 L167.46,220.97 L167.58,221.41 L167.71,221.84 L167.83,222.25 L167.86,222.34 L167.96,222.65 L168.08,223.05 L168.21,223.44 L168.33,223.83 L168.46,224.22 L168.58,224.62 L168.71,225.03 L168.83,225.44 L168.84,225.46 L168.96,225.86 L169.09,226.27 L169.21,226.69 L169.34,227.10 L169.46,227.52 L169.59,227.93 L169.71,228.34 L169.82,228.70 L169.84,228.75 L169.96,229.16 L170.09,229.57 L170.21,229.97 L170.34,230.37 L170.46,230.77 L170.59,231.17 L170.71,231.56 L170.80,231.83 L170.84,231.95 L170.96,232.34 L171.09,232.73 L171.22,233.12 L171.34,233.51 L171.47,233.90 L171.59,234.28 L171.72,234.67 L171.78,234.87 L171.84,235.05 L171.97,235.43 L172.09,235.80 L172.22,236.18 L172.34,236.55 L172.47,236.91 L172.59,237.28 L172.72,237.64 L172.76,237.76 L172.84,237.99 L172.97,238.34 L173.10,238.69 L173.22,239.03 L173.35,239.38 L173.47,239.73 L173.60,240.07 L173.72,240.42 L173.75,240.49 L173.85,240.77 L173.97,241.11 L174.10,241.46 L174.22,241.79 L174.35,242.13 L174.47,242.45 L174.60,242.77 L174.72,243.09 L174.73,243.09 L174.85,243.39 L174.97,243.69 L175.10,243.97 L175.23,244.25 L175.35,244.51 L175.48,244.77 L175.60,245.00 L175.71,245.20 L175.73,245.23 L175.85,245.46 L175.98,245.67 L176.10,245.89 L176.23,246.10 L176.35,246.31 L176.48,246.51 L176.60,246.71 L176.69,246.84 L176.73,246.90 L176.85,247.09 L176.98,247.27 L177.11,247.45 L177.23,247.63 L177.36,247.80 L177.48,247.97 L177.61,248.14 L177.67,248.22 L177.73,248.30 L177.86,248.45 L177.98,248.61 L178.11,248.75 L178.23,248.90 L178.36,249.04 L178.48,249.18 L178.61,249.31 L178.65,249.35 L178.73,249.44 L178.86,249.57 L178.98,249.70 L179.11,249.82 L179.24,249.95 L179.36,250.07 L179.49,250.19 L179.61,250.31 L179.63,250.33 L179.74,250.43 L179.86,250.55 L179.99,250.66 L180.11,250.78 L180.24,250.89 L180.36,250.99 L180.49,251.10 L180.61,251.20 L180.61,251.20 L180.74,251.30 L180.86,251.40 L180.99,251.50 L181.12,251.59 L181.24,251.69 L181.37,251.77 L181.49,251.86 L181.59,251.93 L181.62,251.94 L181.74,252.02 L181.87,252.10 L181.99,252.18 L182.12,252.25 L182.24,252.32 L182.37,252.38 L182.49,252.45 L182.57,252.49 L182.62,252.51 L182.74,252.57 L182.87,252.64 L182.99,252.70 L183.12,252.76 L183.25,252.82 L183.37,252.88 L183.50,252.94 L183.55,252.97 L183.62,253.00 L183.75,253.06 L183.87,253.12 L184.00,253.18 L184.12,253.23 L184.25,253.29 L184.37,253.35 L184.50,253.40 L184.54,253.42 L184.62,253.46 L184.75,253.51 L184.87,253.56 L185.00,253.62 L185.52,253.82 L186.50,254.16 L187.48,254.41 L188.46,254.58 L189.44,254.66 L190.42,254.72 L191.40,254.77 L192.38,254.81 L193.36,254.84 L194.34,254.87 L195.33,254.90 L196.31,254.94 L197.29,254.99 L198.27,255.05 L199.25,255.12 L200.23,255.19 L201.21,255.27 L202.19,255.35 L203.17,255.43 L204.15,255.52 L205.14,255.61 L206.12,255.71 L207.10,255.83 L208.08,255.95 L209.06,256.08 L210.04,256.21 L211.02,256.34 L212.00,256.46 L212.98,256.58 L213.96,256.70 L214.94,256.79 L215.93,256.89 L216.91,256.98 L217.89,257.06 L218.87,257.15 L219.85,257.24 L220.83,257.32 L221.81,257.41 L222.79,257.49 L223.77,257.57 L224.75,257.65 L225.73,257.72 L226.72,257.80 L227.70,257.87 L228.68,257.94 L229.66,258.01 L230.64,258.08 L231.62,258.14 L232.60,258.21 L233.58,258.27 L234.56,258.33 L235.54,258.38 L236.53,258.43 L237.51,258.48 L238.49,258.53 L239.47,258.58 L240.45,258.62 L241.43,258.66 L242.41,258.70 L243.39,258.74 L244.37,258.78 L245.35,258.82 L246.33,258.86 L247.32,258.89 L248.30,258.93 L249.28,258.97 L250.26,259.00 L251.24,259.03 L252.22,259.07 L253.20,259.10 L254.18,259.13 L255.16,259.16 L256.14,259.19 L257.12,259.22 L258.11,259.25 L259.09,259.27 L260.07,259.30 L261.05,259.32 L262.03,259.35 L263.01,259.37 L263.99,259.39 L264.97,259.41 L265.95,259.43 L266.93,259.45 L267.92,259.47 L268.90,259.48 L269.88,259.50 L270.86,259.51 L271.84,259.53 L272.82,259.54 L273.80,259.56 L274.78,259.57 L275.76,259.58 L276.74,259.60 L277.72,259.61 L278.71,259.62 L279.69,259.63 L280.67,259.64 L281.65,259.65 L282.63,259.66 L283.61,259.67 L284.59,259.68 L285.57,259.69 L286.55,259.69 L287.53,259.70 L288.51,259.70 L289.50,259.70 L290.48,259.70 L291.46,259.70 L292.44,259.69 L293.42,259.67 L294.40,259.66 L295.38,259.64 L296.36,259.61 L297.34,259.58 L298.32,259.55 L299.31,259.52 L300.29,259.48 L301.27,259.44 L302.25,259.39 L303.23,259.35 L304.21,259.30 L305.19,259.24 L306.17,259.19 L307.15,259.13 L308.13,259.07 L309.11,259.01 L310.10,258.94 L311.08,258.88 L312.06,258.81 L313.04,258.74 L314.02,258.67 L315.00,258.60" stroke="#800000" stroke-dasharray="8 7.411" stroke-dashoffset="2.66"/>
<path d="M21.70,260.40 L22.68,260.40 L23.66,260.40 L24.64,260.40 L25.62,260.40 L26.60,260.40 L27.59,260.40 L28.57,260.40 L29.55,260.40 L30.53,260.40 L31.51,260.40 L32.49,260.40 L33.47,260.40 L34.45,260.40 L35.43,260.40 L36.41,260.40 L37.39,260.40 L38.38,260.40 L39.36,260.40 L40.34,260.40 L41.32,260.40 L42.30,260.40 L43.28,260.40 L44.26,260.40 L45.24,260.40 L46.22,260.40 L47.20,260.40 L48.19,260.40 L49.17,260.40 L50.15,260.40 L51.13,260.40 L52.11,260.40 L53.09,260.40 L54.07,260.40 L55.05,260.40 L56.03,260.40 L57.01,260.40 L57.99,260.40 L58.98,260.40 L59.96,260.40 L60.94,260.40 L61.92,260.40 L62.90,260.40 L63.88,260.40 L64.86,260.40 L65.84,260.39 L66.82,260.39 L67.80,260.39 L68.78,260.38 L69.77,260.38 L70.75,260.37 L71.73,260.37 L72.71,260.36 L73.69,260.36 L74.67,260.35 L75.65,260.34 L76.63,260.33 L77.61,260.32 L78.59,260.32 L79.58,260.30 L80.56,260.29 L81.54,260.25 L82.52,260.19 L83.50,260.10 L84.48,260.00 L85.46,259.87 L86.44,259.71 L87.42,259.36 L88.40,258.97 L89.38,258.71 L90.37,258.49 L91.35,258.34 L92.33,258.31 L93.31,258.43 L94.29,258.64 L95.27,258.87 L96.25,259.22 L97.23,259.64 L98.21,259.98 L99.19,260.11 L100.17,260.13 L101.16,260.15 L102.14,260.16 L103.12,260.17 L104.10,260.19 L105.08,260.20 L106.06,260.22 L107.04,260.24 L108.02,260.27 L109.00,260.30 L109.98,260.32 L110.97,260.35 L111.95,260.37 L112.93,260.38 L113.91,260.40 L114.89,260.40 L115.87,260.39 L116.85,260.35 L117.83,260.30 L118.81,260.22 L119.79,260.12 L120.77,260.01 L121.76,259.88 L122.74,259.75 L123.72,259.60 L124.70,259.45 L125.68,259.28 L126.66,259.05 L127.64,258.76 L128.62,258.43 L129.60,258.06 L130.58,257.64 L131.56,257.12 L132.55,256.49 L133.53,255.74 L134.51,254.83 L135.00,254.29 L135.13,254.14 L135.25,253.98 L135.38,253.83 L135.49,253.69 L135.50,253.67 L135.63,253.51 L135.75,253.34 L135.88,253.17 L136.00,253.00 L136.13,252.83 L136.25,252.65 L136.38,252.47 L136.47,252.34 L136.50,252.29 L136.63,252.10 L136.75,251.91 L136.88,251.72 L137.01,251.53 L137.13,251.33 L137.26,251.13 L137.38,250.93 L137.45,250.82 L137.51,250.73 L137.63,250.52 L137.76,250.32 L137.88,250.11 L138.01,249.90 L138.13,249.68 L138.26,249.47 L138.38,249.25 L138.43,249.17 L138.51,249.04 L138.63,248.82 L138.76,248.59 L138.88,248.36 L139.01,248.12 L139.14,247.88 L139.26,247.62 L139.39,247.36 L139.41,247.30 L139.51,247.09 L139.64,246.81 L139.76,246.53 L139.89,246.24 L140.01,245.94 L140.14,245.64 L140.26,245.34 L140.39,245.03 L140.39,245.02 L140.51,244.72 L140.64,244.41 L140.76,244.10 L140.89,243.78 L141.02,243.46 L141.14,243.14 L141.27,242.82 L141.37,242.55 L141.39,242.50 L141.52,242.19 L141.64,241.87 L141.77,241.55 L141.89,241.24 L142.02,240.93 L142.14,240.62 L142.27,240.32 L142.36,240.11 L142.39,240.02 L142.52,239.72 L142.64,239.43 L142.77,239.15 L142.89,238.87 L143.02,238.59 L143.15,238.32 L143.27,238.05 L143.34,237.90 L143.40,237.77 L143.52,237.49 L143.65,237.22 L143.77,236.93 L143.90,236.64 L144.02,236.35 L144.15,236.04 L144.27,235.73 L144.32,235.62 L144.40,235.41 L144.52,235.08 L144.65,234.73 L144.77,234.37 L144.90,234.00 L145.03,233.61 L145.15,233.21 L145.28,232.80 L145.30,232.72 L145.40,232.37 L145.53,231.92 L145.65,231.46 L145.78,230.99 L145.90,230.50 L146.03,230.00 L146.15,229.48 L146.28,228.94 L146.28,228.94 L146.40,228.39 L146.53,227.82 L146.65,227.23 L146.78,226.63 L146.90,226.00 L147.03,225.36 L147.16,224.71 L147.26,224.13 L147.28,224.01 L147.41,223.29 L147.53,222.52 L147.66,221.71 L147.78,220.86 L147.91,219.97 L148.03,219.03 L148.16,218.05 L148.24,217.37 L148.28,217.01 L148.41,215.92 L148.53,214.76 L148.66,213.50 L148.78,212.15 L148.91,210.72 L149.04,209.20 L149.16,207.61 L149.22,206.81 L149.29,205.95 L149.41,204.22 L149.54,202.43 L149.66,200.58 L149.79,198.68 L149.91,196.70 L150.04,194.57 L150.16,192.24 L150.20,191.44 L150.29,189.62 L150.41,186.66 L150.54,182.83 L150.66,178.18 L150.79,173.13 L150.91,168.14 L151.04,163.61 L151.17,159.40 L151.18,158.80 L151.29,155.29 L151.42,151.20 L151.54,147.02 L151.67,142.64 L151.79,138.06 L151.92,133.34 L152.04,128.57 L152.16,123.95 L152.17,123.83 L152.29,119.19 L152.42,114.75 L152.54,110.57 L152.67,106.56 L152.79,102.69 L152.92,98.93 L153.05,95.27 L153.15,92.38 L153.17,91.67 L153.30,88.12 L153.42,84.55 L153.55,80.99 L153.67,77.54 L153.80,74.35 L153.92,71.53 L154.05,68.98 L154.13,67.48 L154.17,66.62 L154.30,64.40 L154.42,62.30 L154.55,60.31 L154.67,58.39 L154.80,56.52 L154.92,54.70 L155.05,52.94 L155.11,52.16 L155.18,51.25 L155.30,49.62 L155.43,48.07 L155.55,46.61 L155.68,45.24 L155.80,43.95 L155.93,42.70 L156.05,41.52 L156.09,41.19 L156.18,40.40 L156.30,39.38 L156.43,38.47 L156.55,37.65 L156.68,36.81 L156.80,36.06 L156.93,35.58 L157.06,35.55 L157.07,35.58 L157.18,35.98 L157.31,36.71 L157.43,37.55 L157.56,38.36 L157.68,39.25 L157.81,40.24 L157.93,41.33 L158.05,42.43 L158.06,42.50 L158.18,43.76 L158.31,45.09 L158.43,46.52 L158.56,48.07 L158.68,49.75 L158.81,51.55 L158.93,53.49 L159.03,55.06 L159.06,55.55 L159.19,57.74 L159.31,60.21 L159.44,63.07 L159.56,66.16 L159.69,69.28 L159.81,72.28 L159.94,75.17 L160.01,76.89 L160.06,78.06 L160.19,80.93 L160.31,83.79 L160.44,86.62 L160.56,89.39 L160.69,91.97 L160.81,94.39 L160.94,96.77 L160.99,97.78 L161.07,99.18 L161.19,101.72 L161.32,104.47 L161.44,107.53 L161.57,110.99 L161.69,115.37 L161.82,121.41 L161.94,128.43 L161.97,130.26 L162.07,135.66 L162.19,142.31 L162.32,147.62 L162.44,150.97 L162.57,153.55 L162.69,155.84 L162.82,157.89 L162.94,159.73 L162.95,159.87 L163.07,161.40 L163.20,162.93 L163.32,164.36 L163.45,165.73 L163.57,167.08 L163.70,168.44 L163.82,169.84 L163.94,171.20 L163.95,171.34 L164.07,172.94 L164.20,174.57 L164.32,176.21 L164.45,177.85 L164.57,179.48 L164.70,181.08 L164.82,182.65 L164.92,183.78 L164.95,184.18 L165.08,185.64 L165.20,187.03 L165.33,188.34 L165.45,189.55 L165.58,190.67 L165.70,191.74 L165.83,192.75 L165.90,193.30 L165.95,193.72 L166.08,194.64 L166.20,195.51 L166.33,196.34 L166.45,197.13 L166.58,197.88 L166.70,198.58 L166.83,199.24 L166.88,199.49 L166.95,199.86 L167.08,200.45 L167.21,201.02 L167.33,201.57 L167.46,202.11 L167.58,202.65 L167.71,203.19 L167.83,203.74 L167.86,203.87 L167.96,204.32 L168.08,204.91 L168.21,205.54 L168.33,206.19 L168.46,206.85 L168.58,207.52 L168.71,208.21 L168.83,208.90 L168.84,208.93 L168.96,209.59 L169.09,210.28 L169.21,210.97 L169.34,211.65 L169.46,212.32 L169.59,212.97 L169.71,213.61 L169.82,214.16 L169.84,214.23 L169.96,214.83 L170.09,215.40 L170.21,215.96 L170.34,216.51 L170.46,217.05 L170.59,217.58 L170.71,218.11 L170.80,218.47 L170.84,218.62 L170.96,219.13 L171.09,219.63 L171.22,220.13 L171.34,220.62 L171.47,221.11 L171.59,221.59 L171.72,222.07 L171.78,222.32 L171.84,222.54 L171.97,223.01 L172.09,223.48 L172.22,223.95 L172.34,224.42 L172.47,224.88 L172.59,225.35 L172.72,225.82 L172.76,225.99 L172.84,226.30 L172.97,226.77 L173.10,227.25 L173.22,227.73 L173.35,228.20 L173.47,228.67 L173.60,229.14 L173.72,229.60 L173.75,229.68 L173.85,230.05 L173.97,230.50 L174.10,230.93 L174.22,231.36 L174.35,231.77 L174.47,232.18 L174.60,232.56 L174.72,232.94 L174.73,232.94 L174.85,233.29 L174.97,233.63 L175.10,233.96 L175.23,234.28 L175.35,234.59 L175.48,234.90 L175.60,235.20 L175.71,235.45 L175.73,235.50 L175.85,235.79 L175.98,236.08 L176.10,236.36 L176.23,236.63 L176.35,236.91 L176.48,237.17 L176.60,237.43 L176.69,237.61 L176.73,237.69 L176.85,237.94 L176.98,238.19 L177.11,238.44 L177.23,238.68 L177.36,238.91 L177.48,239.14 L177.61,239.37 L177.67,239.48 L177.73,239.59 L177.86,239.81 L177.98,240.03 L178.11,240.24 L178.23,240.45 L178.36,240.66 L178.48,240.86 L178.61,241.06 L178.65,241.12 L178.73,241.25 L178.86,241.45 L178.98,241.64 L179.11,241.84 L179.24,242.03 L179.36,242.22 L179.49,242.42 L179.61,242.61 L179.63,242.64 L179.74,242.80 L179.86,242.99 L179.99,243.17 L180.11,243.36 L180.24,243.54 L180.36,243.73 L180.49,243.91 L180.61,244.08 L180.61,244.09 L180.74,244.26 L180.86,244.43 L180.99,244.61 L181.12,244.77 L181.24,244.94 L181.37,245.10 L181.49,245.26 L181.59,245.39 L181.62,245.42 L181.74,245.57 L181.87,245.72 L181.99,245.86 L182.12,246.01 L182.24,246.14 L182.37,246.28 L182.49,246.40 L182.57,246.48 L182.62,246.53 L182.74,246.65 L182.87,246.77 L182.99,246.88 L183.12,246.98 L183.25,247.08 L183.37,247.18 L183.50,247.27 L183.55,247.31 L183.62,247.35 L183.75,247.43 L183.87,247.51 L184.00,247.58 L184.12,247.66 L184.25,247.73 L184.37,247.80 L184.50,247.87 L184.54,247.89 L184.62,247.94 L184.75,248.01 L184.87,248.08 L185.00,248.14 L185.52,248.40 L186.50,248.85 L187.48,249.23 L188.46,249.54 L189.44,249.80 L190.42,250.00 L191.40,250.17 L192.38,250.31 L193.36,250.44 L194.34,250.55 L195.33,250.66 L196.31,250.77 L197.29,250.89 L198.27,251.01 L199.25,251.13 L200.23,251.25 L201.21,251.37 L202.19,251.49 L203.17,251.60 L204.15,251.71 L205.14,251.81 L206.12,251.91 L207.10,252.01 L208.08,252.10 L209.06,252.19 L210.04,252.27 L211.02,252.36 L212.00,252.44 L212.98,252.53 L213.96,252.61 L214.94,252.70 L215.93,252.78 L216.91,252.87 L217.89,252.96 L218.87,253.04 L219.85,253.13 L220.83,253.22 L221.81,253.31 L222.79,253.40 L223.77,253.49 L224.75,253.58 L225.73,253.67 L226.72,253.76 L227.70,253.84 L228.68,253.93 L229.66,254.01 L230.64,254.10 L231.62,254.18 L232.60,254.26 L233.58,254.34 L234.56,254.42 L235.54,254.49 L236.53,254.56 L237.51,254.63 L238.49,254.70 L239.47,254.77 L240.45,254.83 L241.43,254.89 L242.41,254.95 L243.39,255.02 L244.37,255.08 L245.35,255.15 L246.33,255.21 L247.32,255.28 L248.30,255.34 L249.28,255.40 L250.26,255.47 L251.24,255.53 L252.22,255.59 L253.20,255.65 L254.18,255.71 L255.16,255.76 L256.14,255.82 L257.12,255.87 L258.11,255.92 L259.09,255.97 L260.07,256.02 L261.05,256.06 L262.03,256.10 L263.01,256.14 L263.99,256.17 L264.97,256.20 L265.95,256.23 L266.93,256.25 L267.92,256.27 L268.90,256.29 L269.88,256.30 L270.86,256.31 L271.84,256.32 L272.82,256.32 L273.80,256.33 L274.78,256.34 L275.76,256.35 L276.74,256.35 L277.72,256.36 L278.71,256.36 L279.69,256.37 L280.67,256.38 L281.65,256.38 L282.63,256.38 L283.61,256.39 L284.59,256.39 L285.57,256.39 L286.55,256.40 L287.53,256.40 L288.51,256.40 L289.50,256.40 L290.48,256.40 L291.46,256.39 L292.44,256.38 L293.42,256.37 L294.40,256.35 L295.38,256.33 L296.36,256.30 L297.34,256.27 L298.32,256.23 L299.31,256.19 L300.29,256.15 L301.27,256.10 L302.25,256.06 L303.23,256.00 L304.21,255.95 L305.19,255.89 L306.17,255.83 L307.15,255.77 L308.13,255.70 L309.11,255.63 L310.10,255.57 L311.08,255.50 L312.06,255.42 L313.04,255.35 L314.02,255.28 L315.00,255.20" stroke="#0000ff" stroke-width="2.1"/>
</g>
<!-- annotation lines -->
<g stroke="#000" stroke-width="1.9" fill="none">
<line x1="156.9" y1="274.2" x2="156.9" y2="38" stroke-dasharray="7.7 7.51"/>
<line x1="143.4" y1="279.8" x2="143.4" y2="222" stroke-dasharray="8 7.25"/>
</g>
<g fill="#000" stroke="none">
<path d="M156.3,30.9 L157.5,30.9 L160.1,41.2 L153.7,41.2 Z" stroke="#000" stroke-width="0.5" stroke-linejoin="round"/>
<path d="M142.8,215.8 L144.0,215.8 L146.6,226.0 L140.2,226.0 Z" stroke="#000" stroke-width="0.5" stroke-linejoin="round"/>
</g>
<!-- frame -->
<g stroke="#111" stroke-width="1.3" fill="none">
<rect x="21.7" y="27.5" width="293.30" height="252.30"/>
<line x1="21.70" y1="279.80" x2="21.70" y2="284.80"/><line x1="46.14" y1="279.80" x2="46.14" y2="282.80"/><line x1="70.58" y1="279.80" x2="70.58" y2="284.80"/><line x1="95.03" y1="279.80" x2="95.03" y2="282.80"/><line x1="119.47" y1="279.80" x2="119.47" y2="284.80"/><line x1="143.91" y1="279.80" x2="143.91" y2="282.80"/><line x1="168.35" y1="279.80" x2="168.35" y2="284.80"/><line x1="192.79" y1="279.80" x2="192.79" y2="282.80"/><line x1="217.23" y1="279.80" x2="217.23" y2="284.80"/><line x1="241.67" y1="279.80" x2="241.67" y2="282.80"/><line x1="266.12" y1="279.80" x2="266.12" y2="284.80"/><line x1="290.56" y1="279.80" x2="290.56" y2="282.80"/><line x1="315.00" y1="279.80" x2="315.00" y2="284.80"/>
</g>
<!-- scale bar -->
<g stroke="#000" stroke-width="2.1" fill="none">
<line x1="29.9" y1="63" x2="29.9" y2="96"/>
<line x1="25.7" y1="63.4" x2="34.5" y2="63.4"/>
<line x1="25.7" y1="95.6" x2="34.5" y2="95.6"/>
</g>
<!-- legend -->
<g fill="none" stroke-width="2.1">
<line x1="222.6" y1="54.85" x2="254.8" y2="54.85" stroke="#0000ff" stroke-width="2.2"/>
<line x1="222.6" y1="75.1" x2="254.8" y2="75.1" stroke="#800000" stroke-dasharray="8.4 6.9"/>
<line x1="223.2" y1="95.2" x2="254.8" y2="95.2" stroke="#008000" stroke-width="2.4" stroke-linecap="round" stroke-dasharray="1.5 7.6"/>
<line x1="222.6" y1="115.6" x2="254.5" y2="115.6" stroke="#ff8000" stroke-dasharray="4.35 2.6"/>
<line x1="222.7" y1="135.5" x2="253.5" y2="135.5" stroke="#000" stroke-dasharray="7.9 3 2 4.6 2 3.6 7.7 40"/>
</g>
<g font-size="16.25px">
<text x="258.6" y="59.6">6 Torr</text>
<text x="258.6" y="79.9">5 Torr</text>
<text x="258.6" y="100.1">4 Torr</text>
<text x="258.6" y="120.5">3 Torr</text>
<text x="258.6" y="140.4">1 Torr</text>
</g>
<!-- labels -->
<text x="26.3" y="43.3" font-size="16.2px">Zn-MOF74</text>
<text x="35.5" y="83.7" font-size="18.6px">0.01</text>
<text x="166.8" y="47.3" font-size="19.1px">2338</text>
<text x="105.3" y="210.6" font-size="16.5px">2325</text>
<text x="140.7" y="13" font-size="15.6px"><tspan class="sym" font-size="15px" dy="-0.7">ν</tspan><tspan font-size="10.2px" dy="4.4">3</tspan><tspan dy="-3.7">(CO</tspan><tspan font-size="10.2px" dy="3.7">2</tspan><tspan dy="-3.7">)</tspan></text>
<text x="89.0" y="185.2" font-size="15px" class="reg"><tspan class="sym" font-size="15.2px">δ</tspan><tspan font-size="10px" font-weight="bold" dy="4" dx="0.3">2</tspan><tspan dy="-4">–</tspan><tspan class="sym" font-size="15.2px">δ</tspan><tspan font-size="10px" font-weight="bold" dy="4" dx="0.3">1</tspan><tspan dy="-4">+</tspan><tspan class="sym" font-size="15.2px">ν</tspan><tspan font-size="10px" font-weight="bold" dy="4">3</tspan></text>
<g font-size="16.2px"><text x="21.70" y="300.3" text-anchor="middle">2200</text><text x="70.75" y="300.3" text-anchor="middle">2250</text><text x="119.80" y="300.3" text-anchor="middle">2300</text><text x="168.85" y="300.3" text-anchor="middle">2350</text><text x="217.90" y="300.3" text-anchor="middle">2400</text><text x="266.95" y="300.3" text-anchor="middle">2450</text><text x="316.00" y="300.3" text-anchor="middle">2500</text></g>
<text x="94.2" y="316.5" font-size="16.2px">Wavenumber (cm<tspan font-size="10.4px" dy="-6">-1</tspan><tspan dy="6">)</tspan></text>
<text transform="translate(12.4,227.8) rotate(-90)" font-size="16.7px">Absorbance (a.u.)</text>
</svg>
</body></html>
